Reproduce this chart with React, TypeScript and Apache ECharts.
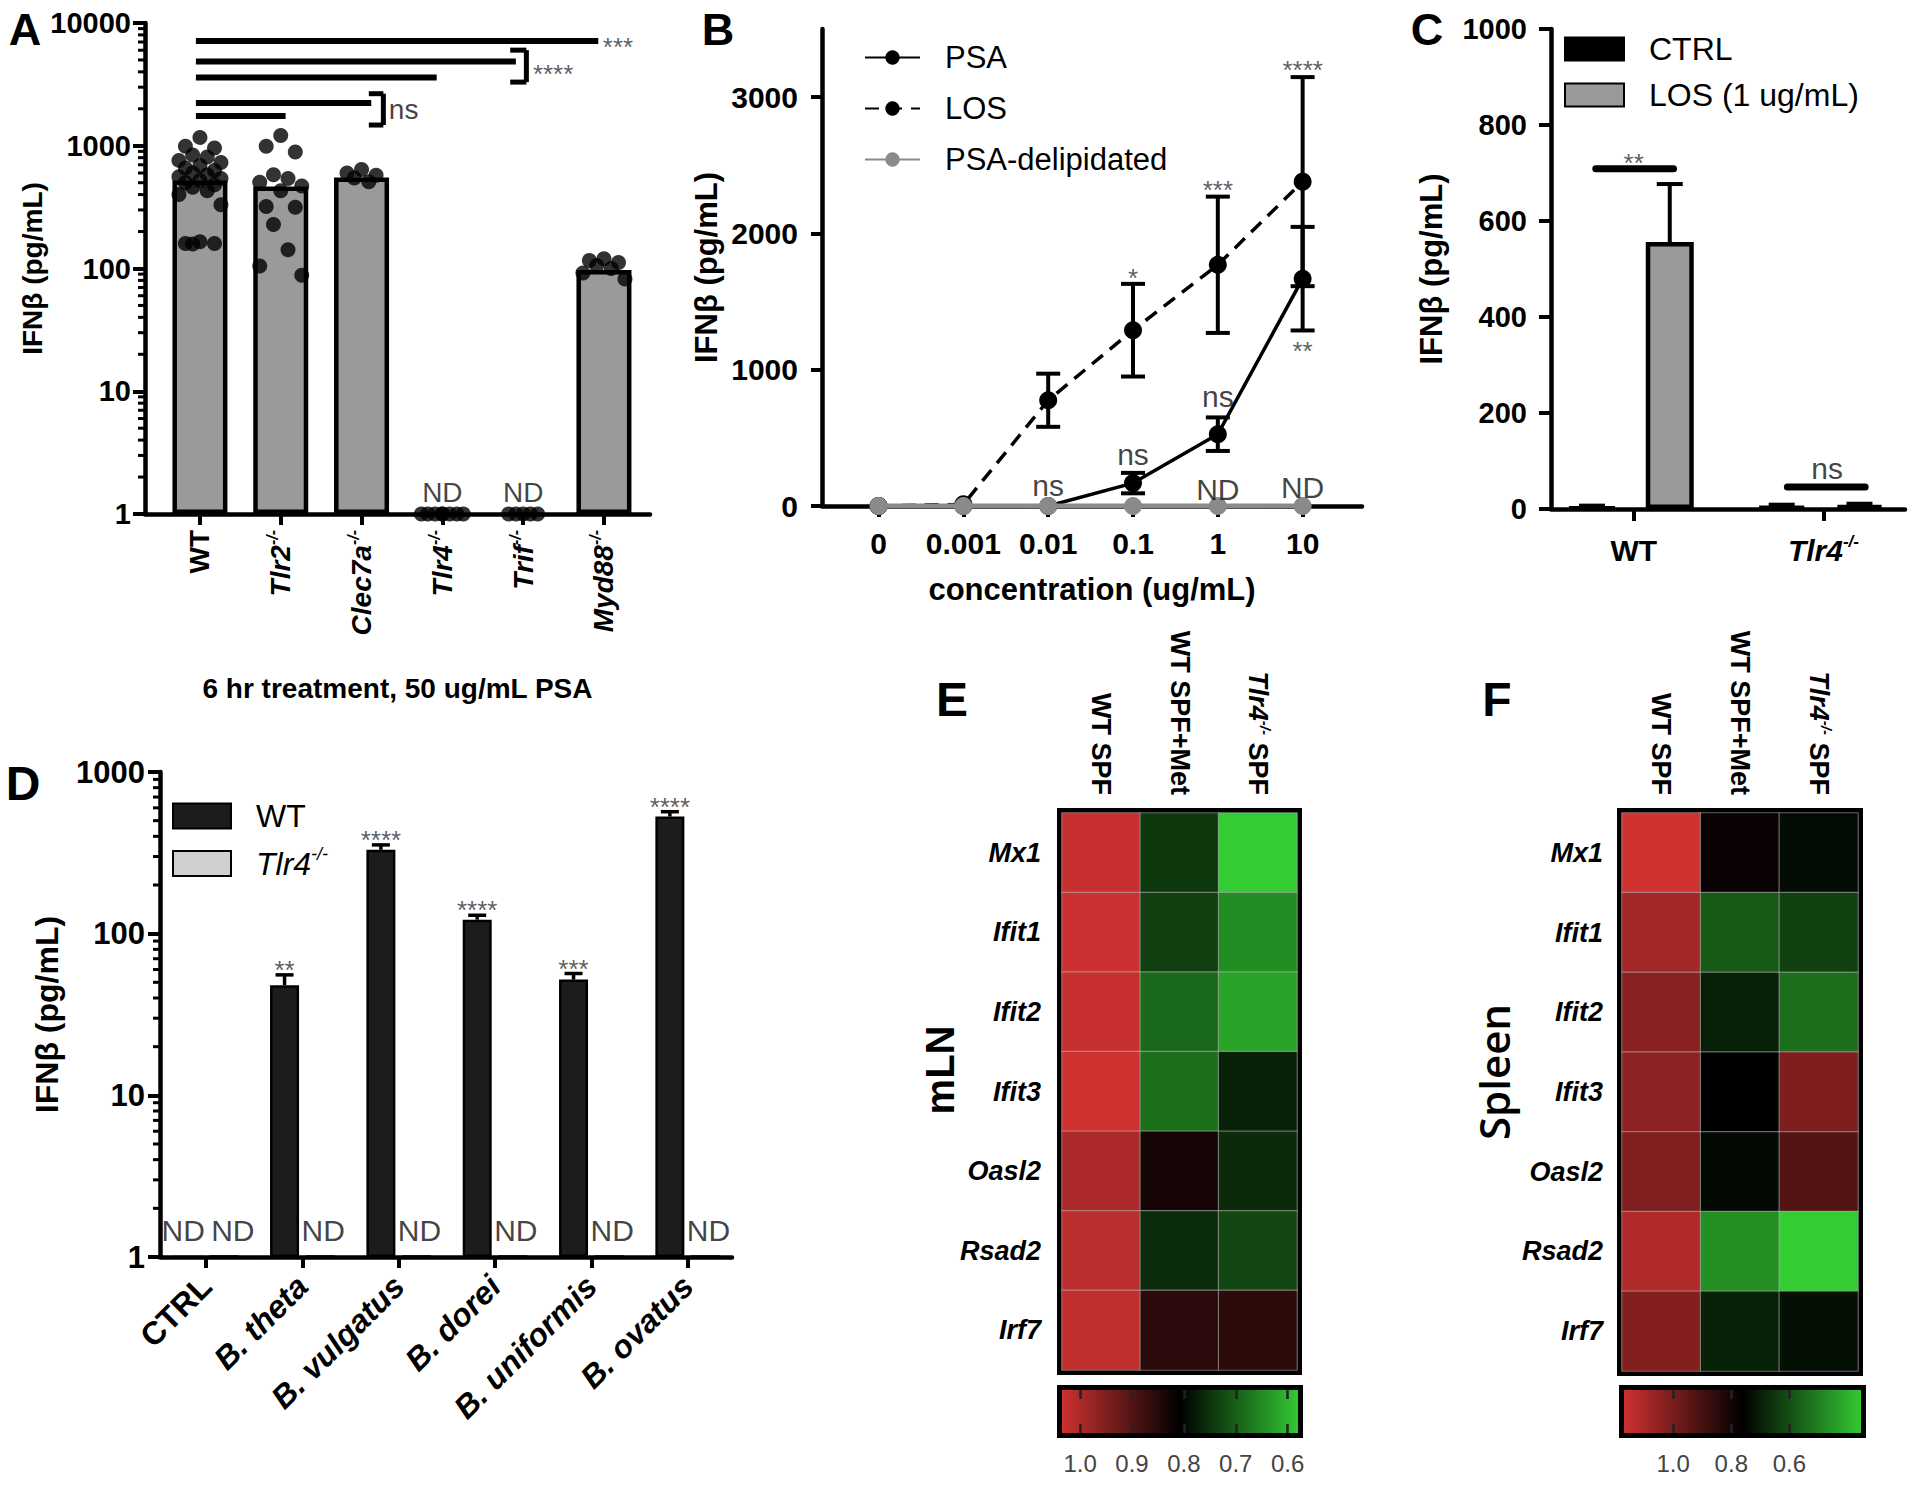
import React, { useEffect, useRef } from 'react';
import * as echarts from 'echarts';

const FONT = '"Liberation Sans", Arial, Helvetica, sans-serif';
const RED = '#d13232';
const GREEN = '#33cc33';

// ===== Panel A =====
const aCategories = ['WT', 'Tlr2-/-', 'Clec7a-/-', 'Tlr4-/-', 'Trif-/-', 'Myd88-/-'];
const aBarMeans = [521, 466, 551, 1, 1, 97];
const aNotDetected = [false, false, false, true, true, false];
const aDotsWT = [1170, 990, 960, 840, 810, 760, 730, 690, 660, 630, 600, 580, 560, 540, 520, 500, 480, 460, 430, 400, 330, 165, 160, 160, 158];
const aDotsTlr2 = [1210, 990, 890, 580, 540, 505, 470, 430, 320, 315, 228, 142, 105, 88];
const aDotsClec7a = [640, 600, 575, 545, 510];
const aDotsTlr4 = [1, 1, 1, 1, 1, 1, 1, 1];
const aDotsTrif = [1, 1, 1, 1, 1];
const aDotsMyd88 = [120, 116, 112, 106, 100, 92, 82];
// comparison lines (from WT to end, at value y)
const aCompY = [7130, 4850, 3590, 2230, 1745];
const aCompEnd = [4.93, 3.91, 2.93, 2.12, 1.06];

// ===== Panel B =====
const bConc = ['0', '0.001', '0.01', '0.1', '1', '10'];
const bPsaMean = [0, 0, 0, 168, 527, 1668];
const bPsaErr = [0, 0, 0, 75, 123, 380];
const bLosMean = [0, 12, 776, 1290, 1770, 2380];
const bLosErr = [0, 0, 195, 340, 500, 767];
const bDelipMean = [0, 0, 0, 0, 0, 0];
const bNotes: [string, number, number][] = [
  ['ns', 2, 147], ['ns', 3, 377], ['ns', 4, 804], ['ND', 4, 118], ['ND', 5, 136],
  ['*', 3, 1670], ['***', 4, 2320], ['****', 5, 3200], ['**', 5, 1140],
];

// ===== Panel C =====
const cGroups = ['WT', 'Tlr4-/-'];
const cCtrlMean = [4, 6];
const cCtrlErr = [3, 3];
const cLosMean = [556, 8];
const cLosErr = [121, 3];

// ===== Panel D =====
const dStrains = ['CTRL', 'B. theta', 'B. vulgatus', 'B. dorei', 'B. uniformis', 'B. ovatus'];
const dWtMean = [1, 48, 330, 122, 52, 530];
const dWtErr = [0, 7.6, 24, 8, 4.7, 38];
const dTlr4Mean = [1, 1, 1, 1, 1, 1];
const dWtSig = ['ND', '**', '****', '****', '***', '****'];
const dTlr4Sig = ['ND', 'ND', 'ND', 'ND', 'ND', 'ND'];

// ===== Panels E / F =====
const hmGenes = ['Mx1', 'Ifit1', 'Ifit2', 'Ifit3', 'Oasl2', 'Rsad2', 'Irf7'];
const hmSamples = ['WT SPF', 'WT SPF+Met', 'Tlr4-/- SPF'];
const eWtSpf = [1.025, 1.029, 1.025, 1.034, 0.995, 1.012, 1.016];
const eWtSpfMet = [0.744, 0.737, 0.689, 0.683, 0.83, 0.758, 0.853];
const eTlr4Spf = [0.58, 0.651, 0.625, 0.77, 0.761, 0.728, 0.857];
const fWtSpf = [1.167, 1.077, 1.031, 1.038, 1.011, 1.105, 1.017];
const fWtSpfMet = [0.781, 0.582, 0.698, 0.76, 0.742, 0.474, 0.694];
const fTlr4Spf = [0.738, 0.63, 0.542, 1.007, 0.925, 0.354, 0.73];
const eScaleRange = [0.58, 1.035];
const fScaleRange = [0.354, 1.169];
const eScaleTicks = [0.6, 0.7, 0.8, 0.9, 1.0];
const fScaleTicks = [0.6, 0.8, 1.0];

// ===== layout =====
const GA = { left: 145, top: 23, width: 505, height: 491 };
const GB = { left: 822, top: 29, width: 540, height: 477 };
const GC = { left: 1551, top: 29, width: 354, height: 480 };
const GD = { left: 160, top: 772, width: 572, height: 485 };
const GE = { left: 1062, top: 813, width: 235, height: 557 };
const GEcb = { left: 1062, top: 1390, width: 236, height: 43 };
const GF = { left: 1622, top: 813, width: 236, height: 558 };
const GFcb = { left: 1624, top: 1390, width: 237, height: 43 };
const JITTER = [0, -0.18, 0.18, -0.09, 0.09, -0.26, 0.26];

function fmtName(name: string, italicAll = false) {
  const m = name.match(/^(.*?)-\/-(.*)$/);
  if (m) return `{i|${m[1]}}{s|-/-}` + (m[2] ? `{b|${m[2]}}` : '');
  return italicAll ? `{i|${name}}` : `{b|${name}}`;
}

function richSet(size: number, sup: number, weight: any = 'bold') {
  const lh = Math.round(size * 1.15);
  return {
    b: { fontFamily: FONT, fontSize: size, fontWeight: weight, color: '#000', lineHeight: lh },
    i: { fontFamily: FONT, fontSize: size, fontWeight: weight, fontStyle: 'italic', color: '#000', lineHeight: lh },
    s: { fontFamily: FONT, fontSize: sup, fontWeight: weight, fontStyle: 'italic', color: '#000', verticalAlign: 'top', lineHeight: sup },
    t: { fontFamily: FONT, fontSize: size, fontWeight: weight, color: '#000', lineHeight: lh },
    pad: { width: 20 },
  };
}

const AXL = { color: '#000', width: 4.5 };
const TKL = { color: '#000', width: 4 };
const plain = (v: number) => String(Math.round(v));

function segSeries(xIdx: number, yIdx: number, segs: number[][], width: number, cap = 'butt') {
  return {
    type: 'custom', xAxisIndex: xIdx, yAxisIndex: yIdx, silent: true, clip: false, z: 5,
    data: segs, encode: { x: [0, 2], y: [1, 3] },
    renderItem: (_p: any, api: any) => {
      const a = api.coord([api.value(0), api.value(1)]);
      const b = api.coord([api.value(2), api.value(3)]);
      return { type: 'line', shape: { x1: a[0], y1: a[1], x2: b[0], y2: b[1] }, style: { stroke: '#000', lineWidth: width, lineCap: cap } };
    },
  };
}

function errSeries(xIdx: number, yIdx: number, items: number[][], capHalf: number, lw: number) {
  return {
    type: 'custom', xAxisIndex: xIdx, yAxisIndex: yIdx, silent: true, clip: false, z: 3,
    data: items, encode: { x: 0, y: [1, 2] },
    renderItem: (_p: any, api: any) => {
      const x = api.value(0);
      const lo = api.coord([x, api.value(1)]);
      const hi = api.coord([x, api.value(2)]);
      const st = { stroke: '#000', lineWidth: lw };
      const children: any[] = [
        { type: 'line', shape: { x1: hi[0], y1: lo[1], x2: hi[0], y2: hi[1] }, style: st },
        { type: 'line', shape: { x1: hi[0] - capHalf, y1: hi[1], x2: hi[0] + capHalf, y2: hi[1] }, style: st },
      ];
      if (api.value(3) === 1) children.push({ type: 'line', shape: { x1: lo[0] - capHalf, y1: lo[1], x2: lo[0] + capHalf, y2: lo[1] }, style: st });
      return { type: 'group', children };
    },
  };
}

function minorTickSeries(xIdx: number, yIdx: number, xMin: number, values: number[], len: number) {
  return {
    type: 'custom', xAxisIndex: xIdx, yAxisIndex: yIdx, silent: true, clip: false, z: 3,
    data: values.map((v) => [xMin, v]), encode: { x: 0, y: 1 },
    renderItem: (_p: any, api: any) => {
      const c = api.coord([api.value(0), api.value(1)]);
      return { type: 'line', shape: { x1: c[0] - len, y1: c[1], x2: c[0], y2: c[1] }, style: { stroke: '#000', lineWidth: 3 } };
    },
  };
}

function textSeries(xIdx: number, yIdx: number, items: any[], size: number, color = '#222', weight: any = 'normal') {
  return {
    type: 'scatter', xAxisIndex: xIdx, yAxisIndex: yIdx, silent: true, z: 7,
    symbol: 'circle', symbolSize: 1, itemStyle: { color: 'rgba(0,0,0,0)' },
    data: items.map((t) => ({
      value: [t.x, t.y],
      label: { formatter: t.text, offset: [t.dx || 0, t.dy || 0], position: t.pos || 'inside', distance: t.dist ?? 5 },
    })),
    label: { show: true, position: 'inside', fontFamily: FONT, fontSize: size, color, fontWeight: weight },
    emphasis: { disabled: true },
  };
}

function logMinors(decades: number[]) {
  const out: number[] = [];
  decades.forEach((d) => { for (let k = 2; k <= 9; k++) out.push(k * d); });
  return out;
}

function buildOption() {
  const series: any[] = [];
  const add = (s: any) => { series.push(s); return series.length - 1; };
  const isStar = (t: string) => t.startsWith('*');

  // ---------- A ----------
  add({
    type: 'bar', name: 'A means', xAxisIndex: 0, yAxisIndex: 0, barWidth: 55, z: 2,
    data: aBarMeans.map((v, i) => [i, v]).filter((_d, i) => !aNotDetected[i]),
    itemStyle: { color: '#9a9a9a', borderColor: '#000', borderWidth: 4.5 },
  });
  const aDots = [aDotsWT, aDotsTlr2, aDotsClec7a, aDotsTlr4, aDotsTrif, aDotsMyd88];
  const aDotData: number[][] = [];
  aDots.forEach((vals, i) => vals.forEach((v, j) => aDotData.push([i + JITTER[j % JITTER.length], v])));
  add({ type: 'scatter', xAxisIndex: 0, yAxisIndex: 0, symbolSize: 15, itemStyle: { color: '#000' }, z: 4, data: aDotData, clip: false });
  add(segSeries(0, 0, aCompY.map((y, k) => [-0.05, y, aCompEnd[k], y]), 6));
  add(segSeries(0, 0, [
    [4.04, 6010, 4.04, 3300], [3.84, 6010, 4.04, 6010], [3.84, 3300, 4.04, 3300],
    [2.27, 2655, 2.27, 1475], [2.09, 2655, 2.27, 2655], [2.09, 1475, 2.27, 1475],
  ], 5));
  add(textSeries(0, 0, [
    { x: aCompEnd[0], y: aCompY[0], text: '***', pos: 'right', dist: 4, dy: 6 },
    { x: 4.04, y: 4300, text: '****', pos: 'right', dist: 6, dy: 6 },
  ], 26, '#333'));
  add(textSeries(0, 0, [{ x: 2.27, y: 1990, text: 'ns', pos: 'right', dist: 5 }], 28, '#111'));
  add(textSeries(0, 0, aNotDetected.map((nd, i) => (nd ? { x: i, y: 1.49, text: 'ND' } : null)).filter(Boolean), 28, '#111'));
  add(minorTickSeries(0, 0, -0.68, logMinors([1, 10, 100, 1000]), 7));

  // ---------- B ----------
  add(errSeries(1, 1, bLosMean.map((m, i) => [i, m - bLosErr[i], m + bLosErr[i], 1]).filter((_d, i) => bLosErr[i] > 0), 12, 4));
  add(errSeries(1, 1, bPsaMean.map((m, i) => [i, m - bPsaErr[i], m + bPsaErr[i], 1]).filter((_d, i) => bPsaErr[i] > 0), 12, 4));
  add({
    type: 'line', name: 'LOS', xAxisIndex: 1, yAxisIndex: 1, z: 4,
    data: bLosMean.map((v, i) => [i, v]), symbol: 'circle', symbolSize: 18,
    itemStyle: { color: '#000' }, lineStyle: { color: '#000', width: 3.5, type: [14, 9] },
  });
  add({
    type: 'line', name: 'PSA', xAxisIndex: 1, yAxisIndex: 1, z: 4,
    data: bPsaMean.map((v, i) => [i, v]), symbol: 'circle', symbolSize: 18,
    itemStyle: { color: '#000' }, lineStyle: { color: '#000', width: 3.5 },
  });
  add({
    type: 'line', name: 'PSA-delipidated', xAxisIndex: 1, yAxisIndex: 1, z: 5,
    data: bDelipMean.map((v, i) => [i, v]), symbol: 'circle', symbolSize: 18,
    itemStyle: { color: '#8a8a8a' }, lineStyle: { color: '#8a8a8a', width: 5 },
  });
  add(textSeries(1, 1, bNotes.filter((n) => !isStar(n[0])).map((n) => ({ x: n[1], y: n[2], text: n[0] })), 30, '#111'));
  add(textSeries(1, 1, bNotes.filter((n) => isStar(n[0])).map((n) => ({ x: n[1], y: n[2], text: n[0] })), 26, '#333'));

  // ---------- C ----------
  add({
    type: 'bar', name: 'CTRL', xAxisIndex: 2, yAxisIndex: 2, barWidth: 48, barGap: '-100%', z: 2,
    data: cCtrlMean.map((v, i) => [i - 0.22, v]),
    itemStyle: { color: '#000', borderColor: '#000', borderWidth: 4 },
  });
  add({
    type: 'bar', name: 'LOS (1 ug/mL)', xAxisIndex: 2, yAxisIndex: 2, barWidth: 48, barGap: '-100%', z: 2,
    data: cLosMean.map((v, i) => [i + 0.19, v]),
    itemStyle: { color: '#9a9a9a', borderColor: '#000', borderWidth: 4.5 },
  });
  add(errSeries(2, 2, [
    ...cCtrlMean.map((m, i) => [i - 0.22, m, m + cCtrlErr[i], 0]),
    ...cLosMean.map((m, i) => [i + 0.19, m, m + cLosErr[i], 0]),
  ], 13, 4));
  add(segSeries(2, 2, [[-0.2, 709, 0.21, 709], [0.81, 46, 1.22, 46]], 7, 'round'));
  add(textSeries(2, 2, [{ x: 0, y: 733, text: '**', dy: 6 }], 26, '#333'));
  add(textSeries(2, 2, [{ x: 1.02, y: 84, text: 'ns' }], 30, '#111'));

  // ---------- D ----------
  add({
    type: 'bar', name: 'WT', xAxisIndex: 3, yAxisIndex: 3, barWidth: 29, barGap: '-100%', z: 2,
    data: dWtMean.map((v, i) => [i - 0.185, v]),
    itemStyle: { color: '#1c1c1c', borderColor: '#000', borderWidth: 2.5 },
  });
  add({
    type: 'bar', name: 'Tlr4-/-', xAxisIndex: 3, yAxisIndex: 3, barWidth: 29, barGap: '-100%', z: 2,
    data: dTlr4Mean.map((v, i) => [i + 0.185, v]),
    itemStyle: { color: '#d0d0d0', borderColor: '#000', borderWidth: 3.5 },
  });
  add(errSeries(3, 3, dWtMean.map((m, i) => [i - 0.185, m, m + dWtErr[i], 0]).filter((_d, i) => dWtErr[i] > 0), 9, 3.5));
  add(textSeries(3, 3, dWtSig.map((s, i) => (isStar(s) ? { x: i - 0.185, y: dWtMean[i] + dWtErr[i], text: s, dy: -5 } : null)).filter(Boolean), 26, '#333'));
  add(textSeries(3, 3, [
    ...dWtSig.map((s, i) => (s === 'ND' ? { x: i - 0.185, y: dWtMean[i], text: s, dx: -5, dy: -27 } : null)).filter(Boolean),
    ...dTlr4Sig.map((s, i) => (s === 'ND' ? { x: i + 0.185, y: dTlr4Mean[i], text: s, dx: i === 0 ? 9 : 3, dy: -27 } : null)).filter(Boolean),
  ], 30, '#111'));
  add(minorTickSeries(3, 3, -0.478, logMinors([1, 10, 100]), 7));

  // ---------- E / F heatmaps ----------
  const eData: number[][] = [];
  [eWtSpf, eWtSpfMet, eTlr4Spf].forEach((col, c) => col.forEach((v, r) => eData.push([c, r, v])));
  const fData: number[][] = [];
  [fWtSpf, fWtSpfMet, fTlr4Spf].forEach((col, c) => col.forEach((v, r) => fData.push([c, r, v])));
  const hmStyle = { borderColor: 'rgba(175,175,175,0.55)', borderWidth: 1.2 };
  const eIdx = add({ type: 'heatmap', xAxisIndex: 4, yAxisIndex: 4, data: eData, itemStyle: hmStyle, emphasis: { disabled: true }, z: 3 });
  const fIdx = add({ type: 'heatmap', xAxisIndex: 7, yAxisIndex: 6, data: fData, itemStyle: hmStyle, emphasis: { disabled: true }, z: 3 });

  // ---------- axes ----------
  const tickFont = (size: number) => ({ fontFamily: FONT, fontSize: size, fontWeight: 'bold', color: '#000' });
  const nameFont = (size: number) => ({ fontFamily: FONT, fontSize: size, fontWeight: 'bold', color: '#000' });
  const catIdx = (n: number) => Array.from({ length: n }, (_v, i) => i);

  const xAxis: any[] = [
    {
      type: 'value', gridIndex: 0, min: -0.68, max: 5.57,
      axisLine: { onZero: false, lineStyle: AXL }, splitLine: { show: false },
      axisTick: { length: 11, customValues: catIdx(6), lineStyle: TKL },
      axisLabel: { customValues: catIdx(6), formatter: (v: number) => fmtName(aCategories[Math.round(v)]), rotate: 90, margin: 16, ...tickFont(28), rich: richSet(28, 16) },
      name: '6 hr treatment, 50 ug/mL PSA', nameLocation: 'middle', nameGap: 160, nameTextStyle: nameFont(28),
    },
    {
      type: 'value', gridIndex: 1, min: -0.667, max: 5.7,
      axisLine: { onZero: false, lineStyle: AXL }, splitLine: { show: false },
      axisTick: { length: 11, customValues: catIdx(6), lineStyle: TKL },
      axisLabel: { customValues: catIdx(6), formatter: (v: number) => bConc[Math.round(v)], margin: 22, ...tickFont(30) },
      name: 'concentration (ug/mL)', nameLocation: 'middle', nameGap: 68, nameTextStyle: nameFont(31),
    },
    {
      type: 'value', gridIndex: 2, min: -0.436, max: 1.43,
      axisLine: { onZero: false, lineStyle: AXL }, splitLine: { show: false },
      axisTick: { length: 12, customValues: catIdx(2), lineStyle: TKL },
      axisLabel: { customValues: catIdx(2), formatter: (v: number) => fmtName(cGroups[Math.round(v)]), margin: 24, ...tickFont(30), rich: richSet(30, 17) },
    },
    {
      type: 'value', gridIndex: 3, min: -0.478, max: 5.46,
      axisLine: { onZero: false, lineStyle: AXL }, splitLine: { show: false },
      axisTick: { length: 11, customValues: catIdx(6), lineStyle: TKL },
      axisLabel: { customValues: catIdx(6), formatter: (v: number) => fmtName(dStrains[Math.round(v)], Math.round(v) !== 0), rotate: 45, margin: 24, ...tickFont(32), rich: richSet(32, 17) },
    },
    {
      type: 'category', gridIndex: 4, position: 'top', data: hmSamples,
      axisLine: { show: false }, axisTick: { show: false }, splitLine: { show: false },
      axisLabel: { interval: 0, rotate: 90, margin: 18, formatter: (v: string) => fmtName(v), ...tickFont(27), rich: richSet(27, 15) },
    },
    {
      type: 'value', gridIndex: 5, inverse: true, min: eScaleRange[0], max: eScaleRange[1], z: 10,
      axisLine: { show: false }, splitLine: { show: false },
      axisTick: { inside: true, length: 9, customValues: eScaleTicks, lineStyle: { color: '#222', width: 2.5 } },
      axisLabel: { customValues: eScaleTicks, formatter: (v: number) => v.toFixed(1), margin: 18, fontFamily: FONT, fontSize: 24, color: '#444' },
    },
    {
      type: 'value', gridIndex: 5, position: 'top', inverse: true, min: eScaleRange[0], max: eScaleRange[1], z: 10,
      axisLine: { show: false }, splitLine: { show: false }, axisLabel: { show: false },
      axisTick: { inside: true, length: 9, customValues: eScaleTicks, lineStyle: { color: '#222', width: 2.5 } },
    },
    {
      type: 'category', gridIndex: 6, position: 'top', data: hmSamples,
      axisLine: { show: false }, axisTick: { show: false }, splitLine: { show: false },
      axisLabel: { interval: 0, rotate: 90, margin: 18, formatter: (v: string) => fmtName(v), ...tickFont(27), rich: richSet(27, 15) },
    },
    {
      type: 'value', gridIndex: 7, inverse: true, min: fScaleRange[0], max: fScaleRange[1], z: 10,
      axisLine: { show: false }, splitLine: { show: false },
      axisTick: { inside: true, length: 9, customValues: fScaleTicks, lineStyle: { color: '#222', width: 2.5 } },
      axisLabel: { customValues: fScaleTicks, formatter: (v: number) => v.toFixed(1), margin: 18, fontFamily: FONT, fontSize: 24, color: '#444' },
    },
    {
      type: 'value', gridIndex: 7, position: 'top', inverse: true, min: fScaleRange[0], max: fScaleRange[1], z: 10,
      axisLine: { show: false }, splitLine: { show: false }, axisLabel: { show: false },
      axisTick: { inside: true, length: 9, customValues: fScaleTicks, lineStyle: { color: '#222', width: 2.5 } },
    },
  ];

  const yName = 'IFNβ (pg/mL)';
  const yAxis: any[] = [
    {
      type: 'log', logBase: 10, gridIndex: 0, min: 1, max: 10000,
      axisLine: { show: true, onZero: false, lineStyle: AXL }, splitLine: { show: false },
      axisTick: { length: 12, lineStyle: TKL },
      axisLabel: { formatter: plain, margin: 14, ...tickFont(29) },
      name: yName, nameLocation: 'middle', nameRotate: 90, nameGap: 70, nameTextStyle: nameFont(28),
    },
    {
      type: 'value', gridIndex: 1, min: 0, max: 3500,
      axisLine: { show: true, onZero: false, lineStyle: AXL }, splitLine: { show: false },
      axisTick: { length: 11, customValues: [0, 1000, 2000, 3000], lineStyle: TKL },
      axisLabel: { customValues: [0, 1000, 2000, 3000], formatter: plain, margin: 24, ...tickFont(30) },
      name: yName, nameLocation: 'middle', nameRotate: 90, nameGap: 100, nameTextStyle: nameFont(31),
    },
    {
      type: 'value', gridIndex: 2, min: 0, max: 1000, interval: 200,
      axisLine: { show: true, onZero: false, lineStyle: AXL }, splitLine: { show: false },
      axisTick: { length: 12, lineStyle: TKL },
      axisLabel: { formatter: plain, margin: 24, ...tickFont(29) },
      name: yName, nameLocation: 'middle', nameRotate: 90, nameGap: 104, nameTextStyle: nameFont(31),
    },
    {
      type: 'log', logBase: 10, gridIndex: 3, min: 1, max: 1000,
      axisLine: { show: true, onZero: false, lineStyle: AXL }, splitLine: { show: false },
      axisTick: { length: 12, lineStyle: TKL },
      axisLabel: { formatter: plain, margin: 15, ...tickFont(31) },
      name: yName, nameLocation: 'middle', nameRotate: 90, nameGap: 97, nameTextStyle: nameFont(32),
    },
    {
      type: 'category', gridIndex: 4, inverse: true, data: hmGenes,
      axisLine: { show: false }, axisTick: { show: false }, splitLine: { show: false },
      axisLabel: { interval: 0, margin: 21, fontFamily: FONT, fontSize: 27, fontWeight: 'bold', fontStyle: 'italic', color: '#000' },
    },
    { type: 'value', gridIndex: 5, show: false, min: 0, max: 1 },
    {
      type: 'category', gridIndex: 6, inverse: true, data: hmGenes,
      axisLine: { show: false }, axisTick: { show: false }, splitLine: { show: false },
      axisLabel: { interval: 0, margin: 19, fontFamily: FONT, fontSize: 27, fontWeight: 'bold', fontStyle: 'italic', color: '#000' },
    },
    { type: 'value', gridIndex: 7, show: false, min: 0, max: 1 },
  ];

  const grids = [GA, GB, GC, GD, GE, GEcb, GF, GFcb].map((g, i) => ({
    ...g, containLabel: false, outerBoundsMode: 'none',
    show: i === 4 || i === 6, borderColor: '#000', borderWidth: 10, backgroundColor: 'rgba(0,0,0,0)',
  }));

  const legendBase = { selectedMode: false, orient: 'vertical', padding: 0 };
  const legend: any[] = [
    {
      ...legendBase, left: 864, top: 42, itemGap: 20, itemWidth: 55, itemHeight: 18,
      data: ['PSA', 'LOS', 'PSA-delipidated'],
      formatter: (n: string) => `{pad| }{t|${n}}`,
      textStyle: { rich: richSet(31, 17, 'normal') },
    },
    {
      ...legendBase, left: 1564, top: 33, itemGap: 14, itemWidth: 59, itemHeight: 23, icon: 'rect',
      data: ['CTRL', 'LOS (1 ug/mL)'],
      formatter: (n: string) => `{pad| }{t|${n}}`,
      textStyle: { rich: richSet(32, 17, 'normal') },
    },
    {
      ...legendBase, left: 172, top: 800, itemGap: 13, itemWidth: 58, itemHeight: 25, icon: 'rect',
      data: ['WT', 'Tlr4-/-'],
      formatter: (n: string) => (n.endsWith('-/-') ? `{pad| }{i|${n.slice(0, -3)}}{s|-/-}` : `{pad| }{t|${n}}`),
      textStyle: { rich: richSet(32, 18, 'normal') },
    },
  ];

  const visualMap = [
    { type: 'continuous', show: false, seriesIndex: eIdx, dimension: 2, min: eScaleRange[0], max: eScaleRange[1], inRange: { color: [GREEN, '#000000', RED] } },
    { type: 'continuous', show: false, seriesIndex: fIdx, dimension: 2, min: fScaleRange[0], max: fScaleRange[1], inRange: { color: [GREEN, '#000000', RED] } },
  ];

  const grad = () => new echarts.graphic.LinearGradient(0, 0, 1, 0, [
    { offset: 0, color: RED }, { offset: 0.5, color: '#000000' }, { offset: 1, color: GREEN },
  ]);
  const letter = (t: string, x: number, y: number, size: number) => ({
    type: 'text', x, y, z: 20,
    style: { text: t, fontFamily: FONT, fontSize: size, fontWeight: 'bold', fill: '#000', align: 'center', verticalAlign: 'middle' },
  });
  const graphic = [
    letter('A', 25, 29, 45), letter('B', 718, 29, 45), letter('C', 1427, 29, 45),
    letter('D', 23, 783, 48), letter('E', 952, 699, 48), letter('F', 1497, 699, 48),
    {
      type: 'text', x: 940, y: 1070, rotation: Math.PI / 2, z: 20,
      style: { text: 'mLN', fontFamily: FONT, fontSize: 40, fontWeight: 'bold', fill: '#000', align: 'center', verticalAlign: 'middle' },
    },
    {
      type: 'text', x: 1493, y: 1072, rotation: Math.PI / 2, z: 20,
      style: { text: 'Spleen', fontFamily: '"Open Sans", "Liberation Sans", sans-serif', fontSize: 42, fontWeight: 600, fill: '#000', align: 'center', verticalAlign: 'middle' },
    },
    {
      type: 'rect', z: 1, shape: { x: GEcb.left - 2.5, y: GEcb.top - 2.5, width: GEcb.width + 5, height: GEcb.height + 5 },
      style: { fill: grad(), stroke: '#000', lineWidth: 5 },
    },
    {
      type: 'rect', z: 1, shape: { x: GFcb.left - 2.5, y: GFcb.top - 2.5, width: GFcb.width + 5, height: GFcb.height + 5 },
      style: { fill: grad(), stroke: '#000', lineWidth: 5 },
    },
  ];

  return {
    animation: false,
    backgroundColor: '#ffffff',
    textStyle: { fontFamily: FONT },
    grid: grids,
    xAxis,
    yAxis,
    legend,
    visualMap,
    graphic,
    series,
  };
}

export default function App() {
  const ref = useRef<HTMLDivElement>(null);
  useEffect(() => {
    if (!ref.current) return;
    const chart = echarts.init(ref.current, null, { renderer: 'svg', width: 1920, height: 1489 });
    chart.setOption(buildOption() as any);
    return () => chart.dispose();
  }, []);
  return (
    <div
      ref={ref}
      style={{ position: 'absolute', left: 0, top: 0, width: 1920, height: 1489, background: '#fff' }}
    />
  );
}
